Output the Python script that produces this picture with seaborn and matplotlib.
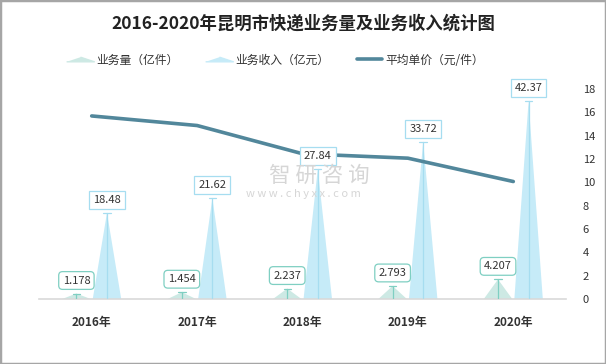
import matplotlib
matplotlib.use("Agg")
import matplotlib.pyplot as plt
from matplotlib.lines import Line2D
from matplotlib.patches import Rectangle
import pandas as pd
import seaborn as sns

# data
years = ["2016年", "2017年", "2018年", "2019年", "2020年"]
volume = [1.178, 1.454, 2.237, 2.793, 4.207]        # 业务量（亿件）
revenue = [18.48, 21.62, 27.84, 33.72, 42.37]       # 业务收入（亿元）
unit_price = [15.69, 14.87, 12.45, 12.07, 10.07]    # 平均单价（元/件）
price_ticks = [0, 2, 4, 6, 8, 10, 12, 14, 16, 18]

sns.set_theme(style="white")
plt.rcParams['font.family'] = ['Noto Sans CJK SC', 'DejaVu Sans']

df = pd.DataFrame({'year': years, 'x': range(len(years)), 'volume': volume,
                   'revenue': revenue, 'price': unit_price})

vol_color = '#cde9e4'
vol_edge = '#7fcfc2'
rev_color = '#c6ebf8'
rev_edge = '#a6ddf0'
line_color = '#52879b'
text_color = '#333333'

fig = plt.figure(figsize=(6.06, 3.64), dpi=100)
ax = fig.add_axes([39 / 606, 65 / 364, 527 / 606, 210 / 364])
ax.set_xlim(-0.5, len(years) - 0.5)
ax.set_ylim(0, 45)
ax.set_yticks([])

# triangles (pictorial bars)
half_w = 0.135
shift = 0.145
for _, r in df.iterrows():
    for val, off, fc, ec in [(r['volume'], -shift, vol_color, vol_edge),
                             (r['revenue'], shift, rev_color, rev_edge)]:
        cx = r['x'] + off
        ax.fill([cx - half_w, cx, cx + half_w], [0, val, 0], color=fc, lw=0, zorder=2)
        ax.plot([cx, cx], [0, val], color=ec, lw=0.9, zorder=3)
        ax.plot([cx - 0.035, cx + 0.035], [val, val], color=ec, lw=0.9, zorder=3)

for s in ['left', 'right', 'top']:
    ax.spines[s].set_visible(False)
ax.spines['bottom'].set_color('#d9d9d9')
ax.spines['bottom'].set_linewidth(1.2)
ax.set_xticks(df['x'])
ax.set_xticklabels(years, fontsize=8.5, fontweight='bold', color=text_color)
ax.tick_params(axis='x', length=0, pad=12)
ax.set_xlabel('')
ax.set_ylabel('')

# average price line
ax2 = ax.twinx()
sns.lineplot(data=df, x='x', y='price', ax=ax2, color=line_color, lw=2.6, zorder=4)
ax2.set_ylim(0, 18)
ax2.set_yticks(price_ticks)
ax2.set_yticklabels([str(t) for t in price_ticks], fontsize=8, color=text_color)
ax2.tick_params(axis='y', length=0, pad=12)
ax2.set_xlabel('')
ax2.set_ylabel('')
for s in ax2.spines.values():
    s.set_visible(False)

# value labels
for _, r in df.iterrows():
    ax2.annotate(f"{r['volume']:.3f}",
                 xy=(r['x'] - shift, r['volume']), xycoords=ax.transData,
                 xytext=(0, 13), textcoords='offset pixels', ha='center', va='center',
                 fontsize=8, color=text_color, zorder=6,
                 bbox=dict(boxstyle='round,pad=0.35', fc='white', ec=vol_edge, lw=0.9))
    ax2.annotate(f"{r['revenue']:.2f}",
                 xy=(r['x'] + shift, r['revenue']), xycoords=ax.transData,
                 xytext=(0, 13), textcoords='offset pixels', ha='center', va='center',
                 fontsize=8, color=text_color, zorder=6,
                 bbox=dict(boxstyle='square,pad=0.35', fc='white', ec=rev_edge, lw=0.9))

# watermark
fig.text(319 / 606, 1 - 176 / 364, "智 研 咨 询", fontsize=15.5, color='#d6d6d6',
         ha='center', va='center', zorder=0)
fig.text(303 / 606, 1 - 194 / 364, "w w w . c h y x x . c o m", fontsize=8,
         color='#d6d6d6', ha='center', va='center', zorder=0)

# title
fig.text(0.5, 1 - 24 / 364, "2016-2020年昆明市快递业务量及业务收入统计图",
         fontsize=12.5, fontweight='bold', color='#222222', ha='center', va='center')

# legend
tri = [(-3, -0.5), (3, -0.5), (0, 0.5)]
handles = [Line2D([], [], ls='none', marker=tri, markersize=20, color=vol_color),
           Line2D([], [], ls='none', marker=tri, markersize=20, color=rev_color),
           Line2D([], [], color=line_color, lw=2.6)]
labels = ["业务量（亿件）", "业务收入（亿元）", "平均单价（元/件）"]
fig.legend(handles, labels, loc='center', bbox_to_anchor=(276 / 606, 1 - 60 / 364),
           ncol=3, frameon=False, fontsize=8.5, handlelength=2.1, handletextpad=0.3,
           columnspacing=2.4, labelcolor=text_color)

# outer frame
fig.patches.append(Rectangle((0, 0), 1, 1, transform=fig.transFigure, fill=False,
                             ec='#a6a6a6', lw=2.5, zorder=10))

fig.savefig('out.png', dpi=100)
